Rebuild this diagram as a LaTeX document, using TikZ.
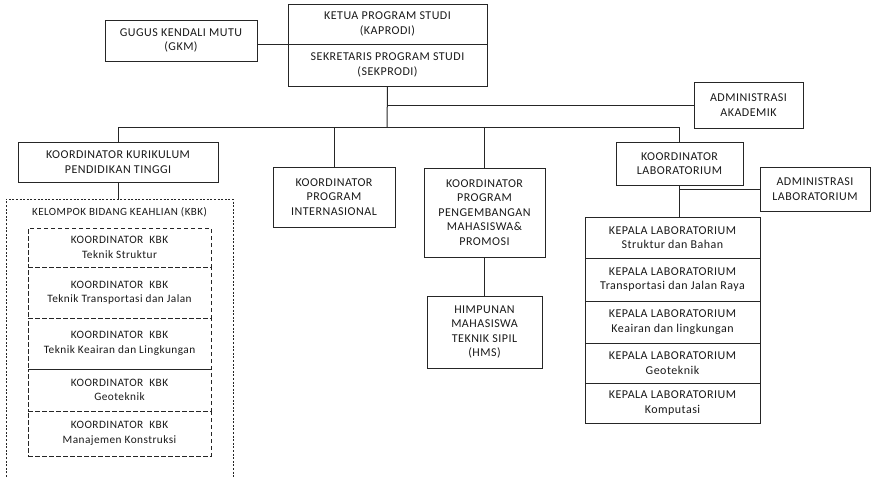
\documentclass[tikz,border=0pt]{standalone}
\usepackage{fontspec}
\setmainfont{Carlito}[LetterSpace=4]
\begin{document}
\begin{tikzpicture}[x=1pt,y=-1pt,
  line width=1pt, draw=black!85,
  box/.style={draw, align=center, inner sep=0pt, font=\fontsize{12}{14.5}\selectfont, text=black!90},
  kbkbox/.style={draw, dash pattern=on 4.5pt off 2.5pt, align=center, inner sep=0pt, font=\fontsize{11.3}{14.5}\selectfont, text=black!90, minimum width=183pt},
  labbox/.style={box, minimum width=175pt},
  conn/.style={draw=black!85, line width=1pt}]
\useasboundingbox (0,0) rectangle (871,477);
% top
\node[box, minimum width=199pt, minimum height=40pt] (kaprodi) at (387.5,24) {KETUA PROGRAM STUDI\\(KAPRODI)};
\node[box, minimum width=199pt, minimum height=42pt] (sekprodi) at (387.5,65) {SEKRETARIS PROGRAM STUDI\\(SEKPRODI)};
\node[box, minimum width=152pt, minimum height=41pt] (gkm) at (181,40.5) {GUGUS KENDALI MUTU\\(GKM)};
\node[box, minimum width=109pt, minimum height=46pt] (admak) at (748.5,105) {ADMINISTRASI\\AKADEMIK};
% second level
\node[box, minimum width=200pt, minimum height=40pt] (kkpt) at (118,162) {KOORDINATOR KURIKULUM\\PENDIDIKAN TINGGI};
\node[box, minimum width=122pt, minimum height=60pt] (pi) at (334,197) {KOORDINATOR\\PROGRAM\\INTERNASIONAL};
\node[box, minimum width=121pt, minimum height=89pt] (ppm) at (484.5,212.5) {KOORDINATOR\\PROGRAM\\PENGEMBANGAN\\MAHASISWA\&\\PROMOSI};
\node[box, minimum width=115pt, minimum height=72pt] (hms) at (484.5,332) {HIMPUNAN\\MAHASISWA\\TEKNIK SIPIL\\(HMS)};
\node[box, minimum width=127pt, minimum height=43pt] (kl) at (679.5,163.5) {KOORDINATOR\\LABORATORIUM};
\node[box, minimum width=110pt, minimum height=44pt] (al) at (815,189) {ADMINISTRASI\\LABORATORIUM};
% lab stack
\node[labbox, minimum height=41pt] (lab1) at (672.5,237.5) {KEPALA LABORATORIUM\\Struktur dan Bahan};
\node[labbox, minimum height=43pt] (lab2) at (672.5,279.5) {KEPALA LABORATORIUM\\Transportasi dan Jalan Raya};
\node[labbox, minimum height=42pt] (lab3) at (672.5,322) {KEPALA LABORATORIUM\\Keairan dan lingkungan};
\node[labbox, minimum height=40pt] (lab4) at (672.5,363) {KEPALA LABORATORIUM\\Geoteknik};
\node[labbox, minimum height=40pt] (lab5) at (672.5,403) {KEPALA LABORATORIUM\\Komputasi};
% KBK group
\coordinate (kbktop) at (118,199);
\draw[dash pattern=on 2pt off 1.6pt] (6,477) -- (6,199) -- (233,199) -- (233,477);
\node[font=\fontsize{11}{13}\selectfont, text=black!90] (kbktitle) at (119.5,212.5) {KELOMPOK BIDANG KEAHLIAN (KBK)};
\node[kbkbox, minimum height=39pt] (k1) at (119.5,247.5) {KOORDINATOR\ \ KBK\\Teknik Struktur};
\node[kbkbox, minimum height=51pt] (k2) at (119.5,292.5) {KOORDINATOR\ \ KBK\\Teknik Transportasi dan Jalan};
\node[kbkbox, minimum height=51pt] (k3) at (119.5,343.5) {KOORDINATOR\ \ KBK\\Teknik Keairan dan Lingkungan};
\node[kbkbox, minimum height=42pt] (k4) at (119.5,390) {KOORDINATOR\ \ KBK\\Geoteknik};
\node[kbkbox, minimum height=45pt] (k5) at (119.5,433.5) {KOORDINATOR\ \ KBK\\Manajemen Konstruksi};
% connectors
\coordinate (bus) at (387,127);
\draw[conn] (gkm.east |- kaprodi.south west) -- (kaprodi.south west);
\draw[conn] (sekprodi.south) -- (bus);
\draw[conn] (sekprodi.south |- admak.west) -- (admak.west);
\draw[conn] (kkpt.north |- bus) -- (kl.north |- bus);
\draw[conn] (kkpt.north |- bus) -- (kkpt.north);
\draw[conn] (pi.north |- bus) -- (pi.north);
\draw[conn] (ppm.north |- bus) -- (ppm.north);
\draw[conn] (kl.north |- bus) -- (kl.north);
\draw[conn] (kkpt.south) -- (kbktop);
\draw[conn] (ppm.south) -- (hms.north);
\draw[conn] (kl.south) -- (kl.south |- lab1.north);
\draw[conn] (kl.south |- al.west) -- (al.west);
\end{tikzpicture}
\end{document}
